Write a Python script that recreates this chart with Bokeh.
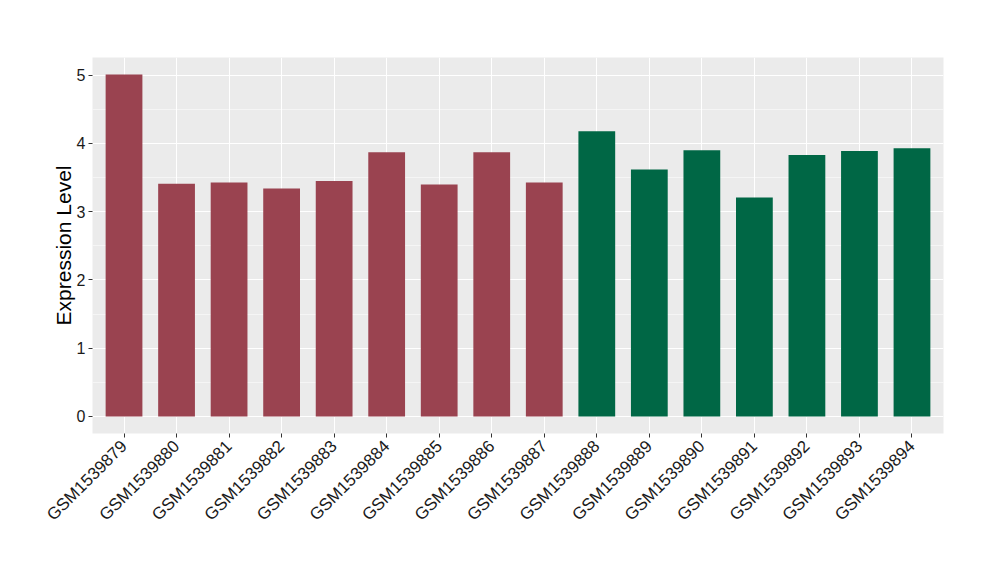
from bokeh.plotting import figure
from bokeh.models import ColumnDataSource, FactorRange, Range1d, FixedTicker
from bokeh.embed import file_html
from bokeh.resources import INLINE
import math

samples = ["GSM1539879", "GSM1539880", "GSM1539881", "GSM1539882", "GSM1539883",
           "GSM1539884", "GSM1539885", "GSM1539886", "GSM1539887", "GSM1539888",
           "GSM1539889", "GSM1539890", "GSM1539891", "GSM1539892", "GSM1539893",
           "GSM1539894"]
values = [5.01, 3.41, 3.43, 3.34, 3.45, 3.87, 3.40, 3.87, 3.43,
          4.18, 3.62, 3.90, 3.21, 3.83, 3.89, 3.93]
groups = ["A"] * 9 + ["B"] * 7
group_colors = {"A": "#9A4350", "B": "#006745"}
colors = [group_colors[g] for g in groups]
y_ticks = [0, 1, 2, 3, 4, 5]

src = ColumnDataSource(dict(x=samples, top=values, color=colors))

p = figure(x_range=FactorRange(*samples, range_padding=0.1, range_padding_units="absolute"),
           y_range=Range1d(-0.25, 5.26),
           frame_width=851, frame_height=376,
           min_border_left=92, min_border_right=41, min_border_top=57, min_border_bottom=131,
           output_backend="svg", toolbar_location=None)
p.outline_line_color = None

p.vbar(x="x", top="top", bottom=0, width=0.7, fill_color="color", line_color=None, source=src)

p.background_fill_color = "#EBEBEB"
p.border_fill_color = "white"

p.xgrid.grid_line_color = "white"
p.xgrid.grid_line_width = 1.1
p.ygrid.grid_line_color = "white"
p.ygrid.grid_line_width = 1.1
p.ygrid.minor_grid_line_color = "white"
p.ygrid.minor_grid_line_width = 0.5

p.yaxis.ticker = FixedTicker(ticks=y_ticks, minor_ticks=[-0.5, 0.5, 1.5, 2.5, 3.5, 4.5, 5.5])

for ax in (p.xaxis[0], p.yaxis[0]):
    ax.axis_line_color = None
    ax.major_tick_line_color = "#333333"
    ax.major_tick_line_width = 1
    ax.major_tick_in = 0
    ax.major_tick_out = 4
    ax.minor_tick_line_color = None
    ax.major_label_text_font = "Liberation Sans"
    ax.major_label_text_color = "#1A1A1A"
    ax.major_label_standoff = 3

p.xaxis.major_label_text_font_size = "17px"
p.xaxis.major_label_standoff = 6
p.yaxis.major_label_text_font_size = "16px"
p.xaxis.major_label_orientation = math.pi / 4
p.xaxis.group_text_font_size = "0px"

p.yaxis.axis_label = "Expression Level"
p.yaxis.axis_label_text_font = "Liberation Sans"
p.yaxis.axis_label_text_font_size = "21px"
p.yaxis.axis_label_text_font_style = "normal"
p.yaxis.axis_label_text_color = "black"
p.yaxis.axis_label_standoff = -1

open("out.html", "w").write(file_html(p, INLINE))
